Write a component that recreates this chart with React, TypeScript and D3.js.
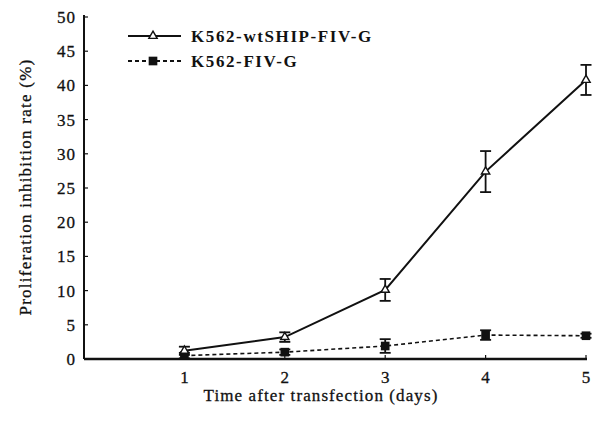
import React, { useEffect, useRef } from 'react';
import * as d3 from 'd3';

const days = [1, 2, 3, 4, 5];
const shipMean = [1.2, 3.2, 10.1, 27.4, 40.8];
const shipErr = [0.6, 0.7, 1.6, 3.0, 2.2];
const fivMean = [0.5, 1.0, 1.9, 3.5, 3.4];
const fivErr = [0.4, 0.4, 1.0, 0.7, 0.3];
const yTicks = [0, 5, 10, 15, 20, 25, 30, 35, 40, 45, 50];
const legendLabels = ['K562-wtSHIP-FIV-G', 'K562-FIV-G'];

const FONT = '"Liberation Serif", "Times New Roman", serif';

export default function App() {
    const svgRef = useRef<SVGSVGElement>(null);

    useEffect(() => {
        const svg = d3.select(svgRef.current);
        svg.selectAll('*').remove();

        const x = d3.scaleLinear().domain([0, 5]).range([84, 586]);
        const y = d3.scaleLinear().domain([0, 50]).range([359, 17]);

        // y axis
        svg.append('line')
            .attr('x1', x(0)).attr('x2', x(0))
            .attr('y1', y(50) - 2).attr('y2', y(0))
            .attr('stroke', '#111').attr('stroke-width', 2);
        // x axis
        svg.append('line')
            .attr('x1', x(0)).attr('x2', x(5) + 1)
            .attr('y1', y(0)).attr('y2', y(0))
            .attr('stroke', '#111').attr('stroke-width', 2.5);

        const yg = svg.append('g');
        yTicks.forEach((t) => {
            yg.append('line')
                .attr('x1', x(0)).attr('x2', x(0) + 4)
                .attr('y1', y(t)).attr('y2', y(t))
                .attr('stroke', '#111').attr('stroke-width', 1.2);
            yg.append('text')
                .attr('x', x(0) - 8).attr('y', y(t))
                .attr('dy', '0.35em')
                .attr('text-anchor', 'end')
                .attr('font-family', FONT)
                .attr('font-size', 17)
                .attr('letter-spacing', 1)
                .attr('fill', '#111')
                .attr('stroke', '#111')
                .attr('stroke-width', 0.3)
                .text(t);
        });

        const xg = svg.append('g');
        days.forEach((d) => {
            xg.append('line')
                .attr('x1', x(d)).attr('x2', x(d))
                .attr('y1', y(0)).attr('y2', y(0) - 4)
                .attr('stroke', '#111').attr('stroke-width', 1.2);
            xg.append('text')
                .attr('x', x(d)).attr('y', y(0) + 24)
                .attr('text-anchor', 'middle')
                .attr('font-family', FONT)
                .attr('font-size', 17)
                .attr('fill', '#111')
                .attr('stroke', '#111')
                .attr('stroke-width', 0.3)
                .text(d);
        });

        svg.append('text')
            .attr('x', 321).attr('y', 401)
            .attr('text-anchor', 'middle')
            .attr('font-family', FONT)
            .attr('font-size', 17)
            .attr('letter-spacing', 1.1)
            .attr('fill', '#111')
            .attr('stroke', '#111')
            .attr('stroke-width', 0.3)
            .text('Time after transfection (days)');

        svg.append('text')
            .attr('transform', `translate(31, 187) rotate(-90)`)
            .attr('text-anchor', 'middle')
            .attr('font-family', FONT)
            .attr('font-size', 17)
            .attr('letter-spacing', 1.25)
            .attr('fill', '#111')
            .attr('stroke', '#111')
            .attr('stroke-width', 0.3)
            .text('Proliferation inhibition rate (%)');

        const line = d3.line<number>()
            .x((d, i) => x(days[i]))
            .y((d) => y(d));

        // dashed series first
        svg.append('path')
            .datum(fivMean)
            .attr('fill', 'none')
            .attr('stroke', '#111')
            .attr('stroke-width', 1.6)
            .attr('stroke-dasharray', '4,3')
            .attr('d', line);
        svg.append('path')
            .datum(shipMean)
            .attr('fill', 'none')
            .attr('stroke', '#111')
            .attr('stroke-width', 2)
            .attr('d', line);

        const errBars = (means: number[], errs: number[]) => {
            means.forEach((m, i) => {
                const cx = x(days[i]);
                const g = svg.append('g').attr('stroke', '#111').attr('stroke-width', 1.8);
                g.append('line').attr('x1', cx).attr('x2', cx)
                    .attr('y1', y(m + errs[i])).attr('y2', y(m - errs[i]));
                g.append('line').attr('x1', cx - 5.5).attr('x2', cx + 5.5)
                    .attr('y1', y(m + errs[i])).attr('y2', y(m + errs[i]));
                g.append('line').attr('x1', cx - 5.5).attr('x2', cx + 5.5)
                    .attr('y1', y(m - errs[i])).attr('y2', y(m - errs[i]));
            });
        };
        errBars(shipMean, shipErr);
        errBars(fivMean, fivErr);

        const tri = d3.symbol().type(d3.symbolTriangle).size(30);
        const sq = d3.symbol().type(d3.symbolSquare).size(75);

        svg.selectAll('.fiv')
            .data(fivMean)
            .enter()
            .append('path')
            .attr('transform', (d, i) => `translate(${x(days[i])},${y(d)})`)
            .attr('d', sq)
            .attr('fill', '#111');

        svg.selectAll('.ship')
            .data(shipMean)
            .enter()
            .append('path')
            .attr('transform', (d, i) => `translate(${x(days[i])},${y(d)})`)
            .attr('d', tri)
            .attr('fill', '#fff')
            .attr('stroke', '#111')
            .attr('stroke-width', 1.4);

        // legend
        const lg = svg.append('g');
        legendLabels.forEach((label, i) => {
            const ly = 36 + i * 25;
            lg.append('line')
                .attr('x1', 128).attr('x2', 181)
                .attr('y1', ly).attr('y2', ly)
                .attr('stroke', '#111')
                .attr('stroke-width', i === 0 ? 2 : 1.8)
                .attr('stroke-dasharray', i === 0 ? null : '4,3');
            lg.append('path')
                .attr('transform', `translate(153,${ly})`)
                .attr('d', i === 0 ? tri : sq)
                .attr('fill', i === 0 ? '#fff' : '#111')
                .attr('stroke', '#111')
                .attr('stroke-width', i === 0 ? 1.4 : 0);
            lg.append('text')
                .attr('x', 191).attr('y', ly)
                .attr('dy', '0.35em')
                .attr('font-family', FONT)
                .attr('font-size', 17)
                .attr('font-weight', 'bold')
                .attr('letter-spacing', 1.6)
                .attr('fill', '#111')
                .text(label);
        });
    }, []);

    return (
        <svg
            ref={svgRef}
            width={598}
            height={421}
            style={{ position: 'absolute', left: 0, top: 0, background: '#fff' }}
        />
    );
}
